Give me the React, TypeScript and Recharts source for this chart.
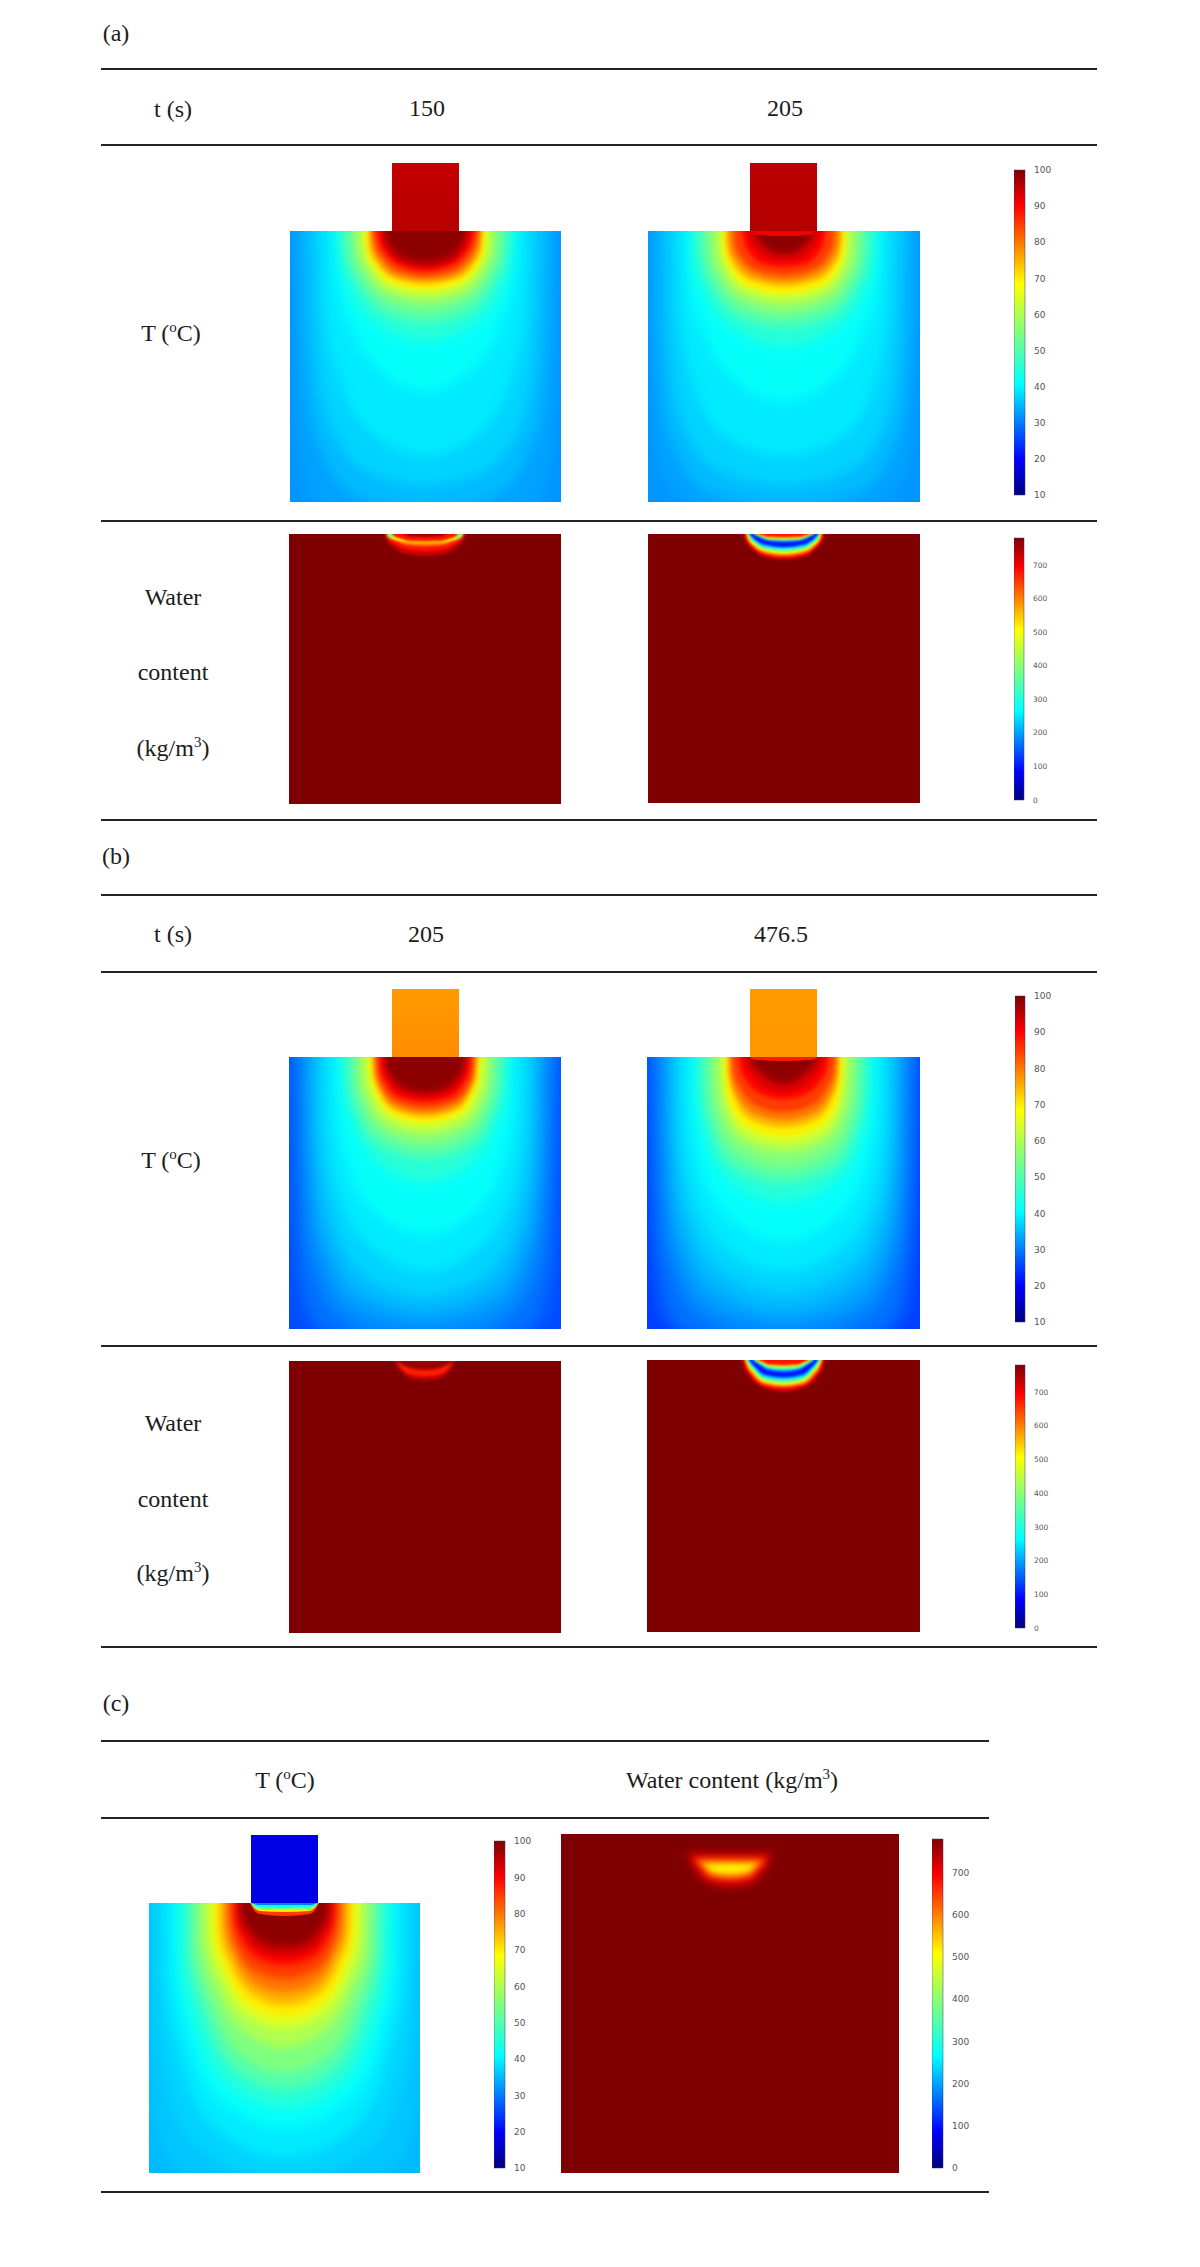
import { Area, AreaChart, Bar, BarChart, XAxis, YAxis } from 'recharts';

// isotherm / iso-content rows: level, offset from the centre line (px), depth below the top edge (px)
type Contour = [number, number[], number[], number?];

const tempA150: Contour[] = [
  [33, [0, 100, 125, 132, 134], [300, 285, 240, 150, 0]],
  [35, [0, 70, 112, 122, 124], [280, 265, 200, 100, 0]],
  [37, [0, 60, 100, 111, 113], [255, 240, 180, 90, 0]],
  [39, [0, 50, 85, 100, 102], [225, 205, 150, 80, 0]],
  [41, [0, 45, 72, 88, 93], [160, 140, 100, 50, 0]],
  [45, [0, 50, 75, 86, 88], [110, 92, 60, 28, 0]],
  [50, [0, 44, 68, 80, 82], [92, 80, 52, 24, 0]],
  [55, [0, 40, 62, 73, 75], [80, 70, 47, 22, 0]],
  [60, [0, 36, 57, 67, 68], [70, 62, 42, 20, 0]],
  [65, [0, 33, 53, 62, 63], [63, 57, 38, 18, 0]],
  [70, [0, 31, 51, 59, 60], [58, 52, 35, 17, 0]],
  [75, [0, 29, 48, 56, 57], [53, 48, 33, 17, 0]],
  [80, [0, 27, 45, 53, 55], [49, 45, 31, 16, 0]],
  [85, [0, 25, 42, 50, 53], [45, 41, 28, 14, 0]],
  [90, [0, 22, 38, 46, 49], [40, 36, 25, 12, 0]],
  [93, [0, 21, 36, 43, 45], [37, 33, 23, 11, 0]],
  [97, [0, 20, 33, 39, 42], [33, 30, 20, 10, 0]],
  [99, [0, 18, 30, 36, 38], [27, 24, 15, 7, 0]],
];

const tempA205: Contour[] = [
  [33, [0, 100, 126, 133, 135], [300, 272, 235, 150, 0]],
  [35, [0, 75, 116, 126, 127], [275, 262, 200, 100, 0]],
  [37, [0, 65, 104, 115, 117], [255, 240, 185, 90, 0]],
  [39, [0, 55, 90, 104, 106], [225, 208, 155, 80, 0]],
  [41, [0, 50, 78, 95, 97], [170, 148, 105, 50, 0]],
  [45, [0, 52, 78, 91, 92], [115, 97, 65, 30, 0]],
  [50, [0, 46, 71, 83, 85], [96, 85, 57, 27, 0]],
  [55, [0, 42, 65, 76, 77], [85, 75, 52, 24, 0]],
  [60, [0, 38, 60, 69, 70], [75, 67, 46, 22, 0]],
  [65, [0, 35, 56, 63, 64], [67, 60, 40, 19, 0]],
  [70, [0, 32, 53, 60, 61], [62, 56, 38, 19, 0]],
  [75, [0, 30, 50, 57, 58], [55, 50, 34, 17, 0]],
  [80, [0, 28, 46, 54, 55], [50, 45, 31, 15, 0]],
  [85, [0, 25, 42, 49, 50], [44, 40, 27, 13, 0]],
  [90, [0, 20, 34, 40, 42], [36, 33, 22, 10, 0]],
  [93, [0, 16, 28, 35, 37], [30, 28, 18, 8, 0]],
  [97, [0, 12, 22, 28, 30], [24, 22, 14, 6, 0]],
  [99, [0, 10, 19, 24, 26], [20, 18, 11, 4, 0]],
];
const capA205: Contour[] = [[91, [0, 25, 30, 33], [5, 4, 2, 0]]];

const tempB205: Contour[] = [
  [27, [0, 125, 134, 138, 140], [310, 262, 200, 100, 0]],
  [29, [0, 105, 126, 131, 133], [300, 272, 205, 90, 0]],
  [31, [0, 85, 116, 124, 126], [290, 260, 195, 90, 0]],
  [33, [0, 70, 108, 118, 119], [268, 252, 185, 90, 0]],
  [35, [0, 65, 103, 113, 114], [255, 238, 170, 80, 0]],
  [37, [0, 60, 95, 106, 107], [240, 220, 155, 75, 0]],
  [39, [0, 55, 88, 98, 99], [215, 190, 130, 60, 0]],
  [41, [0, 50, 78, 88, 89], [178, 155, 105, 50, 0]],
  [45, [0, 48, 72, 82, 83], [125, 105, 65, 30, 0]],
  [50, [0, 46, 68, 76, 77], [102, 88, 55, 26, 0]],
  [55, [0, 42, 62, 69, 70], [90, 77, 50, 24, 0]],
  [60, [0, 37, 56, 63, 64], [79, 69, 45, 22, 0]],
  [65, [0, 34, 52, 58, 59], [71, 62, 40, 19, 0]],
  [70, [0, 31, 48, 54, 55], [65, 58, 37, 18, 0]],
  [75, [0, 29, 46, 52, 53], [60, 54, 35, 17, 0]],
  [80, [0, 28, 44, 50, 51], [56, 50, 33, 16, 0]],
  [85, [0, 26, 42, 48, 49], [51, 46, 31, 15, 0]],
  [90, [0, 24, 38, 45, 46], [45, 41, 28, 13, 0]],
  [93, [0, 22, 36, 42, 44], [41, 37, 25, 11, 0]],
  [97, [0, 20, 33, 39, 41], [37, 33, 22, 10, 0]],
  [99, [0, 18, 30, 36, 38], [32, 28, 18, 8, 0]],
];

const tempB476: Contour[] = [
  [27, [0, 122, 132, 137, 139], [310, 262, 200, 100, 0]],
  [29, [0, 105, 126, 131, 133], [300, 270, 195, 90, 0]],
  [31, [0, 85, 118, 124, 126], [285, 258, 185, 90, 0]],
  [33, [0, 75, 112, 119, 120], [268, 248, 175, 85, 0]],
  [35, [0, 70, 106, 114, 115], [255, 232, 160, 80, 0]],
  [37, [0, 65, 100, 108, 109], [238, 213, 145, 70, 0]],
  [39, [0, 60, 93, 101, 102], [215, 190, 125, 60, 0]],
  [41, [0, 55, 84, 92, 93], [185, 160, 105, 50, 0]],
  [45, [0, 52, 78, 86, 87], [145, 125, 80, 38, 0]],
  [50, [0, 50, 73, 80, 81], [125, 110, 70, 33, 0]],
  [55, [0, 45, 67, 73, 74], [112, 97, 63, 30, 0]],
  [60, [0, 40, 60, 66, 67], [96, 85, 55, 25, 0]],
  [65, [0, 37, 56, 60, 61], [87, 77, 50, 23, 0]],
  [70, [0, 34, 53, 58, 59], [79, 70, 46, 21, 0]],
  [75, [0, 31, 49, 55, 56], [70, 63, 41, 19, 0]],
  [80, [0, 28, 46, 53, 54], [63, 57, 38, 18, 0]],
  [85, [0, 24, 42, 50, 51], [55, 50, 33, 15, 0]],
  [90, [0, 20, 36, 43, 45], [42, 38, 25, 12, 0]],
  [93, [0, 16, 30, 38, 40], [36, 32, 20, 10, 0]],
  [97, [0, 12, 25, 32, 35], [28, 25, 15, 7, 0]],
  [99, [0, 10, 21, 28, 31], [23, 20, 12, 5, 0]],
];
const capB476: Contour[] = [[88, [0, 25, 31, 34], [4, 3, 2, 0]]];

const tempC: Contour[] = [
  [36, [0, 110, 133, 137, 139], [300, 265, 200, 100, 0]],
  [37, [0, 85, 120, 130, 131], [280, 245, 170, 85, 0]],
  [39, [0, 70, 105, 120, 121], [255, 225, 150, 75, 0]],
  [41, [0, 62, 96, 110, 111], [225, 200, 135, 65, 0]],
  [45, [0, 56, 88, 103, 104], [205, 182, 122, 60, 0]],
  [50, [0, 52, 80, 95, 96], [187, 165, 110, 55, 0]],
  [55, [0, 48, 74, 89, 90], [170, 148, 98, 48, 0]],
  [60, [0, 43, 68, 82, 83], [145, 126, 85, 42, 0]],
  [65, [0, 40, 62, 75, 76], [125, 110, 75, 37, 0]],
  [70, [0, 37, 58, 69, 70], [114, 100, 67, 33, 0]],
  [75, [0, 34, 54, 64, 65], [102, 90, 60, 30, 0]],
  [80, [0, 31, 50, 59, 60], [90, 80, 52, 25, 0]],
  [85, [0, 29, 47, 54, 55], [76, 68, 46, 22, 0]],
  [90, [0, 25, 42, 50, 51], [62, 56, 38, 18, 0]],
  [93, [0, 24, 39, 47, 48], [54, 49, 33, 15, 0]],
  [97, [0, 22, 36, 44, 45], [46, 42, 28, 12, 0]],
  [99, [0, 20, 33, 41, 42], [40, 36, 24, 10, 0]],
];
const capC: Contour[] = [
  [85, [0, 25, 32, 34], [13, 11, 5, 0]],
  [70, [0, 25, 31, 34], [9, 8, 4, 0]],
  [55, [0, 26, 31, 34], [7, 6, 3, 0]],
  [42, [0, 26, 31, 34], [5, 4, 2, 0]],
  [30, [0, 26, 30, 33], [2, 2, 1, 0]],
];

const waterA150: Contour[] = [
  [730, [0, 20, 32, 39, 41], [22, 20, 13, 6, 0]],
  [680, [0, 20, 30, 37, 39], [17, 15, 10, 4, 0]],
  [600, [0, 18, 28, 36, 38], [12, 11, 7, 3, 0]],
  [510, [0, 18, 30, 37, 38], [9, 8, 6, 3, 0]],
  [400, [0, 28, 33, 37, 38], [0, 1, 4.5, 3, 0]],
  [680, [0, 15, 25, 31, 33], [7.5, 7, 4.5, 2, 0]],
  [760, [0, 14, 22], [3, 2.5, 0]],
];

const waterA205: Contour[] = [
  [730, [0, 20, 32, 39, 41], [26, 23, 15, 6, 0]],
  [680, [0, 20, 31, 38, 39], [24, 21, 14, 5, 0]],
  [600, [0, 20, 30, 37, 38], [22, 19, 13, 4, 0]],
  [510, [0, 20, 29, 36, 37], [20, 17, 12, 4, 0]],
  [400, [0, 20, 29, 35, 36], [18, 15, 10, 3, 0]],
  [300, [0, 20, 28, 34, 35.5], [16, 14, 9, 3, 0]],
  [200, [0, 20, 27, 33, 35], [14, 12, 8, 3, 0]],
  [100, [0, 20, 27, 32, 34], [13, 10, 7, 2, 0]],
  [200, [0, 15, 24, 29, 31], [8, 7, 4, 1, 0]],
  [400, [0, 15, 23, 28, 30], [6.5, 6, 3, 1, 0]],
  [510, [0, 15, 22, 27, 29], [5, 4.5, 2.5, 1, 0]],
  [600, [0, 15, 21, 26, 28], [4, 3.5, 2, 0.5, 0]],
  [680, [0, 15, 20, 24], [3, 2.5, 1.5, 0]],
];

const waterB205: Contour[] = [
  [730, [0, 15, 24, 29, 30], [19, 17, 10, 3, 0]],
  [670, [0, 14, 22, 26, 27], [15, 13.5, 9, 4, 0]],
  [760, [0, 12, 20, 25, 27], [9, 8, 5, 2, 0]],
];

const waterB476: Contour[] = [
  [730, [0, 20, 33, 40, 41], [32, 28, 18, 7, 0]],
  [680, [0, 20, 32, 38, 40], [29, 26, 16, 6, 0]],
  [600, [0, 20, 31, 37, 39], [27, 24, 15, 6, 0]],
  [510, [0, 20, 30, 36, 38], [25, 22, 13, 5, 0]],
  [400, [0, 20, 29, 35, 37], [23, 20, 12, 4, 0]],
  [300, [0, 20, 28, 34, 36], [21, 18, 11, 4, 0]],
  [200, [0, 20, 27, 33, 35], [19, 16, 10, 3, 0]],
  [100, [0, 20, 27, 32, 34], [17, 14, 8, 3, 0]],
  [200, [0, 15, 24, 30, 31], [12, 10, 5, 1, 0]],
  [300, [0, 15, 23, 28, 30], [10, 8.5, 4.5, 1, 0]],
  [400, [0, 15, 22, 27, 29], [8.5, 7, 4, 1, 0]],
  [510, [0, 15, 21, 26, 28], [7, 6, 3, 1, 0]],
  [600, [0, 15, 20, 25, 27], [6, 5, 2.5, 0.5, 0]],
  [680, [0, 15, 20, 24], [4.5, 4, 2, 0]],
];

const waterC: Contour[] = [
  [760, [0, 22, 36, 42, 45], [56, 52, 40, 28, 16], 16],
  [730, [0, 20, 32, 38, 40], [52, 49, 38, 28, 20], 20],
  [680, [0, 20, 30, 36, 37], [48, 45, 35, 27, 23], 23],
  [600, [0, 20, 27, 32, 34], [44, 41, 33, 28, 26], 26],
  [540, [0, 20, 25, 29, 31], [41, 38, 33, 30, 29], 29],
  [510, [0, 14, 20, 24], [38, 37, 34, 31], 31],
];

const tempTicks = [10, 20, 30, 40, 50, 60, 70, 80, 90, 100];
const waterTicks = [0, 100, 200, 300, 400, 500, 600, 700];

const jetStops: [number, number[]][] = [
  [0, [0, 0, 127]],
  [0.11, [0, 0, 255]],
  [0.34, [0, 255, 255]],
  [0.5, [127, 255, 127]],
  [0.65, [255, 255, 0]],
  [0.89, [255, 0, 0]],
  [1, [127, 0, 0]],
];

const jetHex = (rgb: number[]) => `rgb(${rgb.map(Math.round).join(',')})`;

function jet(t: number) {
  for (let i = 1; i < jetStops.length; i++) {
    const [p0, c0] = jetStops[i - 1];
    const [p1, c1] = jetStops[i];
    if (t <= p1) {
      const f = (t - p0) / (p1 - p0);
      return jetHex(c0.map((c, k) => c + (c1[k] - c) * f));
    }
  }
  return jetHex(jetStops[jetStops.length - 1][1]);
}

const tempColor = (v: number) => jet((v - 10) / 90);
const waterColor = (v: number) => jet(v / 780);

const BLEED = 25;

function contourRows([, dx, depth, top]: Contour) {
  const base = top ?? -BLEED;
  const right = dx.map((x, i) => ({ x, band: [base, depth[i]] }));
  const left = right.slice(1).reverse().map((r) => ({ x: -r.x, band: r.band }));
  return [...left, ...right];
}

function Layer({ w, h, contours, color, blur, background }: any) {
  const cw = w + BLEED * 2;
  const ch = h + BLEED * 2;
  return (
    <div style={{ position: 'absolute', left: -BLEED, top: -BLEED, width: cw, height: ch, background, filter: `blur(${blur}px)` }}>
      <AreaChart width={cw} height={ch} margin={{ top: 0, right: 0, bottom: 0, left: 0 }}>
        <XAxis type="number" dataKey="x" domain={[-cw / 2, cw / 2]} hide allowDataOverflow />
        <YAxis type="number" domain={[-BLEED, h + BLEED]} reversed hide allowDataOverflow />
        {contours.map((c: Contour, i: number) => (
          <Area
            key={i}
            type="monotone"
            data={contourRows(c)}
            dataKey="band"
            fill={color(c[0])}
            fillOpacity={1}
            stroke="none"
            dot={false}
            activeDot={false}
            isAnimationActive={false}
          />
        ))}
      </AreaChart>
    </div>
  );
}

// soft = wide blur for the cool levels, mid for the green band, hot for the dark core
function TempField({ x, y, w, h, contours, cap = [], base, hot = 2 }: any) {
  return (
    <div style={{ position: 'absolute', left: x, top: y, width: w, height: h, overflow: 'hidden' }}>
      <Layer w={w} h={h} contours={contours.filter((c: Contour) => c[0] <= 45)} color={tempColor} blur={6} background={tempColor(base)} />
      <Layer w={w} h={h} contours={contours.filter((c: Contour) => c[0] > 45 && c[0] < 70)} color={tempColor} blur={4} />
      <Layer w={w} h={h} contours={contours.filter((c: Contour) => c[0] >= 70)} color={tempColor} blur={hot} />
      {cap.length > 0 && <Layer w={w} h={h} contours={cap} color={tempColor} blur={0.7} />}
    </div>
  );
}

function WaterField({ x, y, w, h, contours, blur }: any) {
  return (
    <div style={{ position: 'absolute', left: x, top: y, width: w, height: h, overflow: 'hidden' }}>
      <Layer w={w} h={h} contours={contours} color={waterColor} blur={blur} background={waterColor(780)} />
    </div>
  );
}

function Block({ x, y, fill, fill2 }: any) {
  const id = `block-${x}-${y}`;
  return (
    <div style={{ position: 'absolute', left: x, top: y }}>
      <BarChart width={67} height={68} data={[{ name: 'block', h: 1 }]} margin={{ top: 0, right: 0, bottom: 0, left: 0 }} barCategoryGap={0}>
        <defs>
          <linearGradient id={id} x1="0" y1="0" x2="0" y2="1">
            <stop offset="0" stopColor={fill} />
            <stop offset="1" stopColor={fill2} />
          </linearGradient>
        </defs>
        <XAxis dataKey="name" hide />
        <YAxis domain={[0, 1]} hide />
        <Bar dataKey="h" fill={`url(#${id})`} isAnimationActive={false} />
      </BarChart>
    </div>
  );
}

function ColorBar({ x, y, w, h, min, max, ticks, size, gap }: any) {
  const id = `bar-${x}-${y}`;
  const pad = 8;
  return (
    <div style={{ position: 'absolute', left: x, top: y - pad }}>
      <BarChart
        width={w + 34}
        height={h + pad * 2}
        data={[{ name: 'scale', range: [min, max] }]}
        margin={{ top: pad, right: 0, bottom: pad, left: 0 }}
        barCategoryGap={0}
      >
        <defs>
          <linearGradient id={id} x1="0" y1="1" x2="0" y2="0">
            {jetStops.map(([p, c]) => (
              <stop key={p} offset={p} stopColor={jetHex(c)} />
            ))}
          </linearGradient>
        </defs>
        <XAxis dataKey="name" hide />
        <YAxis
          orientation="right"
          type="number"
          domain={[min, max]}
          ticks={ticks}
          interval={0}
          width={34}
          axisLine={false}
          tickLine={false}
          tickMargin={gap}
          tick={{ fontSize: size, fill: '#555', fontFamily: 'DejaVu Sans' }}
        />
        <Bar dataKey="range" fill={`url(#${id})`} stroke="#3a3a6a" strokeWidth={0.5} isAnimationActive={false} />
      </BarChart>
    </div>
  );
}

function Rule({ y, right = 1097 }: { y: number; right?: number }) {
  return <div style={{ position: 'absolute', left: 101, top: y - 1, width: right - 101, height: 2, background: '#222' }} />;
}

function Label({ x, y, children }: any) {
  return (
    <div style={{ position: 'absolute', left: x - 200, top: y - 16, width: 400, height: 32, lineHeight: '32px', textAlign: 'center', whiteSpace: 'nowrap' }}>
      {children}
    </div>
  );
}

const Deg = () => (
  <>
    T (<sup style={{ fontSize: 15, lineHeight: 0 }}>o</sup>C)
  </>
);
const Cube = () => <sup style={{ fontSize: 15, lineHeight: 0 }}>3</sup>;

export default function App() {
  return (
    <div style={{ position: 'absolute', left: 0, top: 0, width: 1200, height: 2267, background: '#fff', overflow: 'hidden', fontFamily: '"Liberation Serif", serif', fontSize: 24, color: '#1c1c1c' }}>
      {[69, 145, 521, 820, 895, 972, 1346, 1647].map((y) => (
        <Rule key={y} y={y} />
      ))}
      {[1741, 1818, 2192].map((y) => (
        <Rule key={y} y={y} right={989} />
      ))}

      <Label x={116} y={33}>(a)</Label>
      <Label x={173} y={109}>t (s)</Label>
      <Label x={427} y={108}>150</Label>
      <Label x={785} y={108}>205</Label>
      <Label x={171} y={333}><Deg /></Label>
      <Label x={173} y={597}>Water</Label>
      <Label x={173} y={672}>content</Label>
      <Label x={173} y={748}>(kg/m<Cube />)</Label>

      <Label x={116} y={856}>(b)</Label>
      <Label x={173} y={934}>t (s)</Label>
      <Label x={426} y={934}>205</Label>
      <Label x={781} y={934}>476.5</Label>
      <Label x={171} y={1160}><Deg /></Label>
      <Label x={173} y={1423}>Water</Label>
      <Label x={173} y={1499}>content</Label>
      <Label x={173} y={1573}>(kg/m<Cube />)</Label>

      <Label x={116} y={1703}>(c)</Label>
      <Label x={285} y={1780}><Deg /></Label>
      <Label x={732} y={1780}>Water content (kg/m<Cube />)</Label>

      <TempField x={290} y={231} w={271} h={271} contours={tempA150} base={32} />
      <Block x={392} y={163} fill="#c40000" fill2="#b80000" />
      <TempField x={648} y={231} w={272} h={271} contours={tempA205} cap={capA205} base={32} />
      <Block x={750} y={163} fill="#bc0000" fill2="#b40000" />
      <WaterField x={289} y={534} w={272} h={270} contours={waterA150} blur={1} />
      <WaterField x={648} y={534} w={272} h={269} contours={waterA205} blur={0.8} />

      <TempField x={289} y={1057} w={272} h={272} contours={tempB205} base={26} />
      <Block x={392} y={989} fill="#ff9a00" fill2="#ff8c00" />
      <TempField x={647} y={1057} w={273} h={272} contours={tempB476} cap={capB476} base={25} />
      <Block x={750} y={989} fill="#ff9a00" fill2="#ff9600" />
      <WaterField x={289} y={1361} w={272} h={272} contours={waterB205} blur={1.5} />
      <WaterField x={647} y={1360} w={273} h={272} contours={waterB476} blur={0.8} />

      <TempField x={149} y={1903} w={271} h={270} contours={tempC} cap={capC} base={35} hot={3.5} />
      <Block x={251} y={1835} fill="#0000e6" fill2="#0000e6" />
      <WaterField x={561} y={1834} w={338} h={339} contours={waterC} blur={3} />

      <ColorBar x={1014} y={170} w={11} h={325} min={10} max={100} ticks={tempTicks} size={9} gap={3} />
      <ColorBar x={1014} y={538} w={10} h={262} min={0} max={780} ticks={waterTicks} size={7.5} gap={3} />
      <ColorBar x={1015} y={996} w={10} h={326} min={10} max={100} ticks={tempTicks} size={9} gap={3} />
      <ColorBar x={1015} y={1365} w={10} h={263} min={0} max={780} ticks={waterTicks} size={7.5} gap={3} />
      <ColorBar x={494} y={1841} w={11} h={327} min={10} max={100} ticks={tempTicks} size={9} gap={3} />
      <ColorBar x={932} y={1839} w={11} h={329} min={0} max={780} ticks={waterTicks} size={9} gap={3} />
    </div>
  );
}
